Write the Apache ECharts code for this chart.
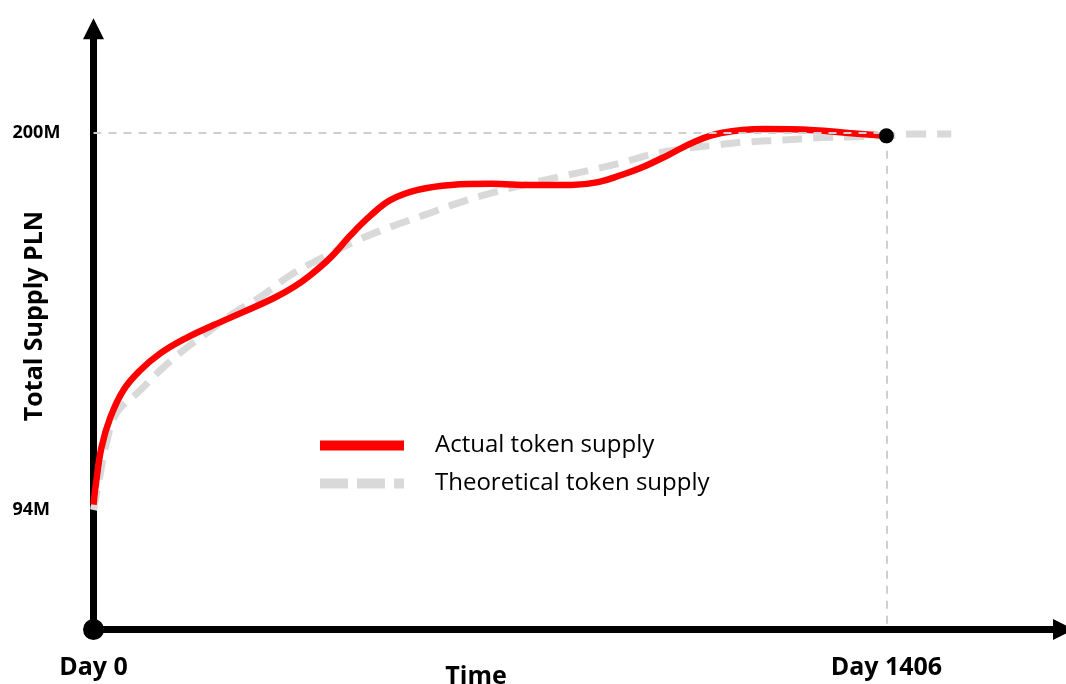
<!DOCTYPE html>
<html>
<head>
<meta charset="utf-8">
<title>Total Supply PLN</title>
<script src="https://cdn.jsdelivr.net/npm/echarts@6/dist/echarts.min.js"></script>
<style>
  html, body { margin: 0; padding: 0; background: #fff; }
  #chart { width: 1066px; height: 684px; }
</style>
</head>
<body>
<div id="chart"></div>
<script>
// actual supply (red)
const actualDays = [0, 4, 14, 30, 53, 83, 119, 165, 213, 266, 320, 355, 385, 421, 456, 492, 527, 575, 634, 705, 776, 847, 895, 936, 971, 1019, 1065, 1113, 1189, 1278, 1339, 1406]
const actualSupply = [95.5, 101, 111.5, 120.1, 127.7, 133.3, 138.1, 142.4, 146, 149.7, 153.6, 156.7, 160.1, 165.1, 171.3, 176.9, 181.2, 184, 185.4, 185.7, 185.4, 185.4, 186.2, 188.2, 190.2, 193.8, 197.5, 200, 201.1, 200.8, 200, 199.2]
// theoretical supply (grey dashed)
const theoryDays = [0, 9, 23, 41, 83, 119, 160, 201, 249, 296, 350, 408, 469, 527, 586, 646, 705, 763, 824, 882, 936, 984, 1042, 1101, 1161, 1220, 1278, 1339, 1406, 1450, 1521]
const theorySupply = [94, 101.6, 112.8, 121.3, 127.7, 133.4, 139, 143.8, 149.4, 153.9, 160.1, 165.1, 169.9, 173.6, 176.9, 180.3, 183.1, 185.4, 187.6, 189.6, 191.6, 193.8, 195.5, 196.6, 197.5, 198, 198.6, 198.9, 199.2, 199.7, 199.7]

const xTicks = [0, 1406]
const yTicks = [94, 200]
const capDay = 1406
const capSupply = 200
const endSupply = 199.2

const xMin = 0
const xMax = 1720
const yMin = 60.4
const yMax = 229.3

const font = '"Open Sans", "Noto Sans", sans-serif'

const chart = echarts.init(document.getElementById('chart'))

const toPairs = (xs, ys) => xs.map((x, i) => [x, ys[i]])

const option = {
  backgroundColor: '#fff',
  animation: false,
  grid: {
    left: 93.5,
    right: 2.5,
    top: 28.8,
    bottom: 54.5,
    containLabel: false,
    outerBoundsMode: 'none'
  },
  legend: {
    orient: 'vertical',
    left: 310,
    top: 426,
    itemWidth: 84,
    itemHeight: 10,
    itemGap: 9,
    textStyle: {
      fontFamily: font,
      fontSize: 24,
      color: '#000',
      lineHeight: 29,
      padding: [0, 0, 0, 26]
    },
    data: [
      { name: 'Actual token supply', icon: 'rect', itemStyle: { color: '#ff0000' } },
      { name: 'Theoretical token supply', lineStyle: { width: 10, type: [28, 9], color: '#d9d9d9' } }
    ]
  },
  xAxis: {
    type: 'value',
    min: xMin,
    max: xMax,
    splitLine: { show: false },
    axisTick: { show: false },
    axisLine: {
      show: true,
      lineStyle: { color: '#000', width: 7 },
      symbol: ['none', 'triangle'],
      symbolSize: [21, 21]
    },
    axisLabel: {
      customValues: xTicks,
      formatter: v => 'Day ' + v,
      margin: 26,
      fontFamily: font,
      fontSize: 25,
      fontWeight: 'bold',
      color: '#000'
    }
  },
  yAxis: {
    type: 'value',
    min: yMin,
    max: yMax,
    splitLine: { show: false },
    axisTick: { show: false },
    axisLine: {
      show: true,
      lineStyle: { color: '#000', width: 7 },
      symbol: ['none', 'triangle'],
      symbolSize: [21, 21]
    },
    axisLabel: {
      customValues: yTicks,
      formatter: v => v + 'M',
      align: 'left',
      margin: 81,
      fontFamily: font,
      fontSize: 18,
      fontWeight: 'bold',
      color: '#000'
    }
  },
  graphic: [
    {
      type: 'text',
      x: 35,
      y: 316,
      rotation: Math.PI / 2,
      style: {
        text: 'Total Supply PLN',
        fontFamily: font,
        fontSize: 25,
        fontWeight: 'bold',
        fill: '#000',
        textAlign: 'center',
        textVerticalAlign: 'middle'
      }
    },
    {
      type: 'text',
      x: 476,
      y: 677,
      style: {
        text: 'Time',
        fontFamily: font,
        fontSize: 25,
        fontWeight: 'bold',
        fill: '#000',
        textAlign: 'center',
        textVerticalAlign: 'middle'
      }
    }
  ],
  series: [
    {
      name: 'Theoretical token supply',
      type: 'line',
      smooth: 0.4,
      showSymbol: false,
      symbol: 'none',
      z: 2,
      lineStyle: { color: '#d9d9d9', width: 7, type: [20, 11], cap: 'butt' },
      itemStyle: { color: '#d9d9d9' },
      data: toPairs(theoryDays, theorySupply)
    },
    {
      name: 'Actual token supply',
      type: 'line',
      smooth: 0.4,
      showSymbol: false,
      symbol: 'none',
      z: 3,
      lineStyle: { color: '#ff0000', width: 6.5 },
      itemStyle: { color: '#ff0000' },
      data: toPairs(actualDays, actualSupply),
      markLine: {
        silent: true,
        symbol: 'none',
        label: { show: false },
        lineStyle: { color: '#cfcfcf', width: 2, type: [8, 7] },
        data: [
          [{ coord: [xMin, capSupply] }, { coord: [capDay, capSupply] }],
          [{ coord: [capDay, endSupply] }, { coord: [capDay, yMin] }]
        ]
      }
    },
    {
      name: 'points',
      type: 'scatter',
      z: 5,
      clip: false,
      silent: true,
      symbolSize: (v, p) => (p.dataIndex === 0 ? 21 : 15),
      itemStyle: { color: '#000', opacity: 1 },
      data: [[xMin, yMin], [capDay, endSupply]]
    }
  ]
}
chart.setOption(option)
</script>
</body>
</html>
